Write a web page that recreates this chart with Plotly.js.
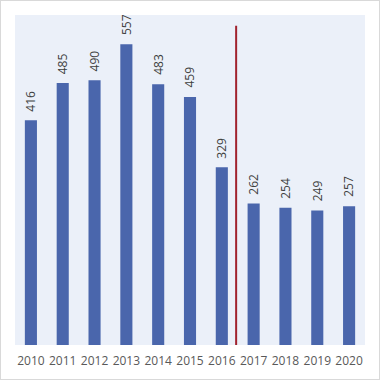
<!DOCTYPE html>
<html><head><meta charset="utf-8">
<script src="https://cdn.plot.ly/plotly-3.0.1.min.js"></script>
<style>
html,body{margin:0;padding:0;background:#fff;}
#chart{width:378px;height:378px;border:1px solid #d9d9d9;}
</style></head>
<body><div id="chart"></div>
<script>
const years = ["2010","2011","2012","2013","2014","2015","2016","2017","2018","2019","2020"];
const values = [416,485,490,557,483,459,329,262,254,249,257];
const dividerPos = 6.45;
const dividerTop = 591;

const trace = {
  type: 'bar',
  x: years.map((_, i) => i),
  y: values,
  marker: {color: '#4a66ac'},
  hoverinfo: 'none'
};

const annotations = values.map((v, i) => ({
  x: i, y: v, xref: 'x', yref: 'y',
  text: String(v), showarrow: false,
  textangle: -90, xanchor: 'center', yanchor: 'bottom', yshift: 7,
  font: {family: 'Open Sans, sans-serif', size: 12, color: '#404040'}
}));

const layout = {
  width: 378, height: 378,
  margin: {l: 14, r: 14, t: 14, b: 34},
  paper_bgcolor: '#ffffff',
  plot_bgcolor: '#ebf0f9',
  bargap: 0.62,
  showlegend: false,
  xaxis: {
    range: [-0.5, years.length - 0.5],
    tickvals: years.map((_, i) => i),
    ticktext: years,
    showgrid: false, zeroline: false, showline: false, ticks: '',
    ticklabelstandoff: 7,
    tickfont: {family: 'Open Sans, sans-serif', size: 12, color: '#595959'}
  },
  yaxis: {
    range: [0, 611],
    visible: false, showgrid: false, zeroline: false
  },
  annotations: annotations,
  shapes: [{
    type: 'line', xref: 'x', yref: 'y',
    x0: dividerPos, x1: dividerPos, y0: -4, y1: dividerTop,
    line: {color: '#a0222e', width: 2}
  }]
};

Plotly.newPlot('chart', [trace], layout, {displayModeBar: false, staticPlot: true});
</script></body></html>
